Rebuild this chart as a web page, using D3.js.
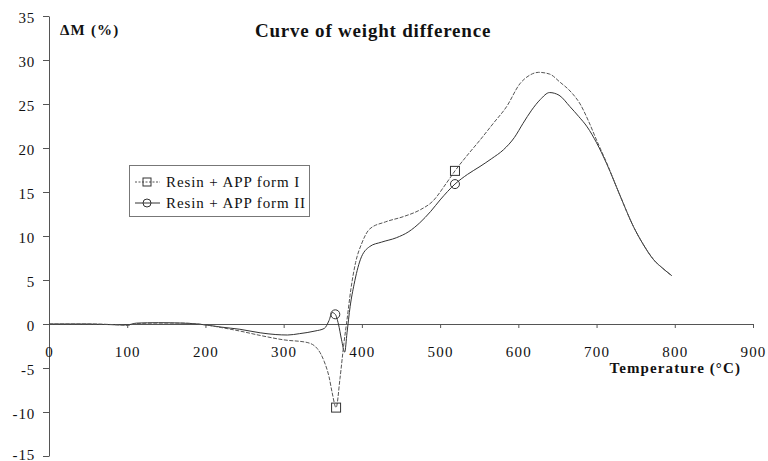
<!DOCTYPE html>
<html>
<head>
<meta charset="utf-8">
<script src="https://cdn.jsdelivr.net/npm/d3@7"></script>
<style>
  html, body { margin: 0; padding: 0; background: #fff; }
  svg { display: block; }
  text { font-family: "Liberation Serif", "Times New Roman", serif; fill: #111; }
</style>
</head>
<body>
<svg id="chart" width="768" height="461"></svg>
<script>
// Weight difference (ΔM, %) versus temperature (°C)
const xTicks = [0, 100, 200, 300, 400, 500, 600, 700, 800, 900];
const yTicks = [-15, -10, -5, 0, 5, 10, 15, 20, 25, 30, 35];

// Resin + APP form I
const tempsI = [0, 50, 90, 100, 112, 140, 170, 190, 200, 220, 244, 270, 300, 330, 343, 352, 358, 362, 367,
  372, 377, 381, 386, 392, 400, 410, 430, 453, 475, 490, 508, 519, 535, 551, 568, 585, 602, 615, 626,
  640, 653, 668, 679, 690, 700, 713, 730, 747, 760, 773, 785, 796];
const valuesI = [0, 0, -0.1, -0.15, 0.05, 0.1, 0.1, 0, -0.1, -0.4, -0.8, -1.3, -1.8, -2.1, -2.8, -4.3, -6.0, -7.8, -9.5,
  -6.2, -2.2, 0.5, 4.0, 7.0, 9.2, 10.8, 11.6, 12.2, 13.0, 13.9, 16.0, 17.4, 19.2, 20.9, 22.8, 24.7, 27.3, 28.3, 28.6,
  28.4, 27.5, 26.3, 25.0, 23.0, 20.9, 18.3, 14.6, 11.1, 9.0, 7.3, 6.3, 5.5];
const markerTempsI = [367, 519];

// Resin + APP form II
const tempsII = [0, 50, 90, 100, 112, 140, 170, 190, 200, 220, 244, 270, 290, 305, 320, 340, 352, 358, 362, 366,
  370, 374, 378, 381, 385, 390, 398, 410, 425, 444, 460, 474, 488, 500, 519, 535, 551, 566, 581, 595, 606, 617,
  628, 640, 652, 666, 677, 688, 700, 713, 730, 747, 760, 773, 785, 796];
const valuesII = [0, 0, -0.1, -0.1, 0.1, 0.15, 0.1, 0, -0.1, -0.35, -0.6, -1.0, -1.2, -1.25, -1.1, -0.8, -0.5, 0.4, 1.3, 1.1,
  0, -1.8, -3.2, -1.0, 2.0, 4.5, 7.3, 8.8, 9.3, 9.8, 10.5, 11.5, 12.8, 14.1, 15.9, 17.0, 17.9, 18.8, 19.8, 21.2, 22.8, 24.3,
  25.5, 26.3, 26.0, 24.7, 23.6, 22.4, 20.6, 18.2, 14.6, 11.1, 9.0, 7.3, 6.3, 5.5];
const markerTempsII = [366, 519];

const seriesNames = ["Resin + APP form I", "Resin + APP form II"];

const svg = d3.select("#chart");
const x = d3.scaleLinear().domain([0, 900]).range([49, 753]);
const y = d3.scaleLinear().domain([-15, 35]).range([456, 16]);
const plain = d => String(d);  // hyphen-minus, as in the printed figure

// Y axis on the left edge of the plot
const yAxis = svg.append("g")
  .attr("transform", `translate(${x(0)},0)`)
  .call(d3.axisLeft(y).tickValues(yTicks).tickSize(6).tickSizeOuter(0).tickPadding(8).tickFormat(plain));
yAxis.select(".domain").attr("stroke", "#555").attr("stroke-width", 1);
yAxis.selectAll(".tick line").attr("stroke", "#555");
yAxis.selectAll(".tick text")
  .attr("font-size", 15).attr("fill", "#111")
  .attr("dy", d => d === -15 ? "0.2em" : "0.42em").attr("letter-spacing", "0.8");

// X axis through zero
const xAxis = svg.append("g")
  .attr("transform", `translate(0,${y(0)})`)
  .call(d3.axisBottom(x).tickValues(xTicks).tickSize(4).tickSizeOuter(0).tickPadding(18).tickFormat(plain));
xAxis.select(".domain").attr("stroke", "#555").attr("stroke-width", 1);
xAxis.selectAll(".tick line").attr("stroke", "#555");
xAxis.selectAll(".tick text")
  .attr("font-size", 15).attr("fill", "#111")
  .attr("letter-spacing", "1.2");

// Curves
const line = d3.line().x(d => x(d[0])).y(d => y(d[1])).curve(d3.curveMonotoneX);
const ptsI = tempsI.map((t, i) => [t, valuesI[i]]);
const ptsII = tempsII.map((t, i) => [t, valuesII[i]]);

svg.append("path").datum(ptsII).attr("d", line)
  .attr("fill", "none").attr("stroke", "#333").attr("stroke-width", 1);
svg.append("path").datum(ptsI).attr("d", line)
  .attr("fill", "none").attr("stroke", "#555").attr("stroke-width", 1)
  .attr("stroke-dasharray", "4,1.5");

// Markers at selected points
const lookup = (temps, vals, t) => vals[temps.indexOf(t)];
svg.selectAll(".mkI").data(markerTempsI).enter().append("rect")
  .attr("x", d => x(d) - 4.5).attr("y", d => y(lookup(tempsI, valuesI, d)) - 4.5)
  .attr("width", 9).attr("height", 9)
  .attr("fill", "none").attr("stroke", "#333").attr("stroke-width", 1);
svg.selectAll(".mkII").data(markerTempsII).enter().append("circle")
  .attr("cx", d => x(d)).attr("cy", d => y(lookup(tempsII, valuesII, d)))
  .attr("r", 4.5)
  .attr("fill", "none").attr("stroke", "#333").attr("stroke-width", 1);

// Titles
svg.append("text").attr("x", 373).attr("y", 37).attr("text-anchor", "middle")
  .attr("font-size", 19).attr("font-weight", "bold").attr("letter-spacing", "0.8")
  .text("Curve of weight difference");
svg.append("text").attr("x", 60).attr("y", 35)
  .attr("font-size", 15).attr("font-weight", "bold").attr("letter-spacing", "1.2")
  .text("ΔM (%)");
svg.append("text").attr("x", 741).attr("y", 373).attr("text-anchor", "end")
  .attr("font-size", 15).attr("font-weight", "bold").attr("letter-spacing", "1.1")
  .text("Temperature (°C)");

// Legend
const legend = svg.append("g");
legend.append("rect").attr("x", 129.5).attr("y", 165.5).attr("width", 180).attr("height", 51)
  .attr("fill", "#fff").attr("stroke", "#777").attr("stroke-width", 1);
const rows = [182, 203];
seriesNames.forEach((name, i) => {
  const cy = rows[i];
  legend.append("line").attr("x1", 135).attr("x2", 160).attr("y1", cy).attr("y2", cy)
    .attr("stroke", i === 0 ? "#555" : "#333").attr("stroke-width", 1)
    .attr("stroke-dasharray", i === 0 ? "2,1.5" : null);
  if (i === 0) {
    legend.append("rect").attr("x", 143).attr("y", cy - 4).attr("width", 8).attr("height", 8)
      .attr("fill", "none").attr("stroke", "#333");
  } else {
    legend.append("circle").attr("cx", 147).attr("cy", cy).attr("r", 4)
      .attr("fill", "none").attr("stroke", "#333");
  }
  legend.append("text").attr("x", 166).attr("y", cy + 4.5)
    .attr("font-size", 15).attr("letter-spacing", "0.9").text(name);
});
</script>
</body>
</html>
